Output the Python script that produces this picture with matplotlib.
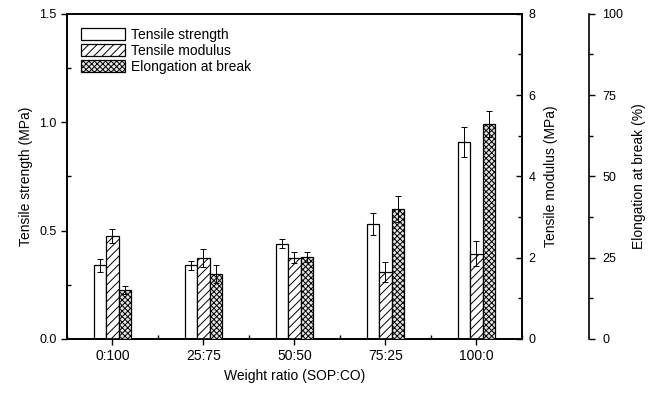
import matplotlib.pyplot as plt
import numpy as np
from matplotlib.ticker import MultipleLocator

plt.rcParams['font.family'] = ['Liberation Sans', 'DejaVu Sans']
plt.rcParams['font.size'] = 9
plt.rcParams['hatch.color'] = '#555555'
plt.rcParams['hatch.linewidth'] = 0.7

# data
ratios = ["0:100", "25:75", "50:50", "75:25", "100:0"]
strength = [0.34, 0.34, 0.44, 0.53, 0.91]        # MPa
strength_err = [0.03, 0.02, 0.02, 0.05, 0.07]
modulus = [2.53, 2.0, 2.0, 1.65, 2.1]             # MPa
modulus_err = [0.17, 0.22, 0.14, 0.25, 0.3]
elong = [15.0, 20.0, 25.3, 40.0, 66.0]            # %
elong_err = [1.3, 2.7, 1.5, 4.0, 4.0]

x = np.arange(len(ratios))
w = 0.137

fig = plt.figure(figsize=(6.49, 3.96), dpi=100)
ax = fig.add_axes([0.103, 0.144, 0.701, 0.821])
ax2 = ax.twinx()
ax3 = ax.twinx()

ek = dict(ecolor="k", elinewidth=0.7, capsize=2.5, capthick=0.7)
b1 = ax.bar(x - w, strength, w, yerr=strength_err, color="white", edgecolor="k",
            lw=0.9, label="Tensile strength", error_kw=ek)
b2 = ax2.bar(x, modulus, w, yerr=modulus_err, color="white", edgecolor="k",
             lw=0.9, hatch="////", label="Tensile modulus", error_kw=ek)
b3 = ax3.bar(x + w, elong, w, yerr=elong_err, color="#e4e4e4", edgecolor="k",
             lw=0.9, hatch="xxxxxx", label="Elongation at break", error_kw=ek)

ax.set_xlim(-0.5, 4.5)
ax.set_ylim(0, 1.5)
ax2.set_ylim(0, 8)
ax3.set_ylim(0, 100)

ax.set_xticks(x)
ax.set_xticklabels(ratios, fontsize=10)
ax.xaxis.set_minor_locator(MultipleLocator(0.5))
ax.set_yticks([0.0, 0.5, 1.0, 1.5])
ax.set_yticklabels(["0.0", "0.5", "1.0", "1.5"])
ax.yaxis.set_minor_locator(MultipleLocator(0.25))
ax2.set_yticks([0, 2, 4, 6, 8])
ax2.yaxis.set_minor_locator(MultipleLocator(1))
ax3.set_yticks([0, 25, 50, 75, 100])
ax3.yaxis.set_minor_locator(MultipleLocator(12.5))

for a in (ax, ax2, ax3):
    a.tick_params(which="major", length=4, width=1)
    a.tick_params(which="minor", length=3, width=1)
    for s in a.spines.values():
        s.set_linewidth(1.2)
ax.tick_params(axis="x", which="minor", direction="in")
ax.tick_params(axis="y", which="minor", direction="in")
ax2.tick_params(axis="y", which="both", direction="in", pad=5)
ax3.tick_params(axis="y", which="both", direction="out", pad=6)

ax3.spines["right"].set_position(("axes", 1.147))
ax3.spines["top"].set_visible(False)
ax3.spines["bottom"].set_visible(False)
ax3.spines["left"].set_visible(False)

ax.set_xlabel("Weight ratio (SOP:CO)", fontsize=10, labelpad=4)
ax.set_ylabel("Tensile strength (MPa)", fontsize=10)
ax2.set_ylabel("Tensile modulus (MPa)", fontsize=10, labelpad=6)
ax3.set_ylabel("Elongation at break (%)", fontsize=10, labelpad=6)

ax.legend(handles=[b1, b2, b3], loc="upper left", frameon=False, fontsize=10,
          handlelength=3.2, handleheight=0.9, labelspacing=0.15,
          borderaxespad=0.6, handletextpad=0.4)

fig.savefig("out.png", dpi=100)
